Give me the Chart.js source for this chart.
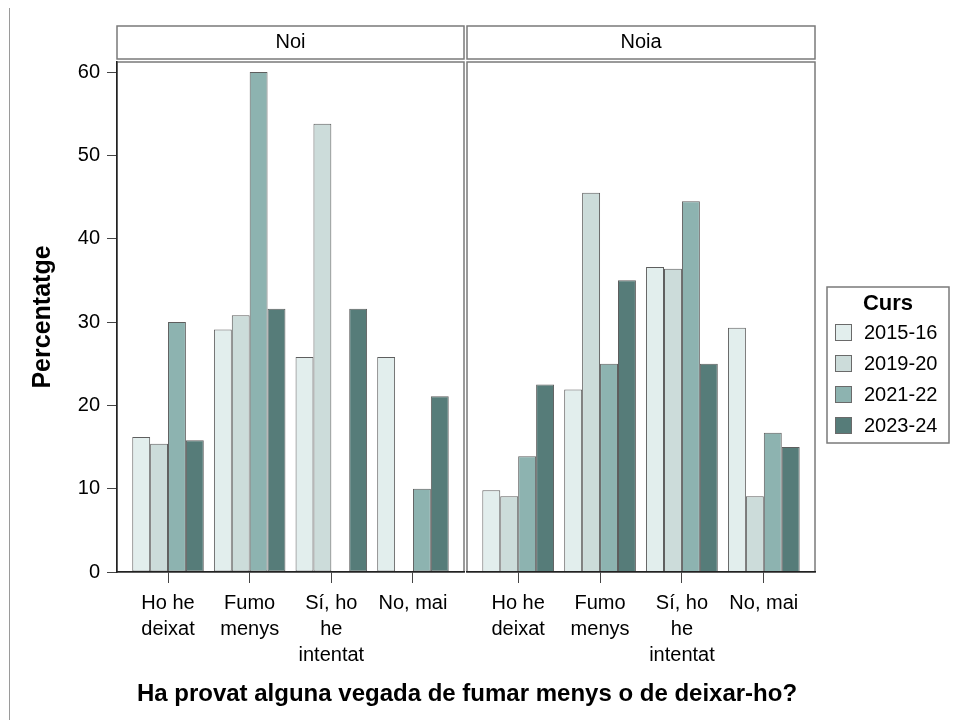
<!DOCTYPE html>
<html lang="ca">
<head>
<meta charset="utf-8">
<title>Ha provat alguna vegada de fumar menys o de deixar-ho?</title>
<script src="https://cdn.jsdelivr.net/npm/chart.js@4.4.1/dist/chart.umd.min.js"></script>
<style>
  html, body { margin: 0; padding: 0; background: #fff; }
  #wrap { position: relative; width: 956px; height: 720px; overflow: hidden; }
  #wrap canvas { position: absolute; left: 0; top: 0; }
  #edge { position: absolute; left: 9px; top: 8px; width: 1px; height: 712px; background: #9a9a9a; }
</style>
</head>
<body>
<div id="wrap">
  <div id="edge"></div>
  <canvas id="panel-noi" width="956" height="720"></canvas>
  <canvas id="panel-noia" width="956" height="720"></canvas>
</div>
<script>
// --- Data: percentatges llegits del gràfic ---
var panels = ['Noi', 'Noia'];
var cursos = ['2015-16', '2019-20', '2021-22', '2023-24'];
var respostes = [['Ho he', 'deixat'], ['Fumo', 'menys'], ['Sí, ho', 'he', 'intentat'], ['No, mai']];
var yTicks = [0, 10, 20, 30, 40, 50, 60];
var xTitle = 'Ha provat alguna vegada de fumar menys o de deixar-ho?';
var yTitle = 'Percentatge';
var legendTitle = 'Curs';

// one array per curs, in the order of respostes
var noi2015 = [16.2, 29.1, 25.8, 25.8];
var noi2019 = [15.4, 30.8, 53.8, 0];
var noi2021 = [30.0, 60.0, 0, 10.0];
var noi2023 = [15.8, 31.6, 31.6, 21.1];

var noia2015 = [9.8, 21.9, 36.6, 29.3];
var noia2019 = [9.1, 45.5, 36.4, 9.1];
var noia2021 = [13.9, 25.0, 44.5, 16.7];
var noia2023 = [22.5, 35.0, 25.0, 15.0];

(function () {
  'use strict';

  if (typeof Chart === 'undefined') return;

  var FONT = '"Liberation Sans", Arial, Helvetica, sans-serif';
  var cursColors = ['#e2eeed', '#ccdcda', '#8db3b0', '#567c79'];
  var frameColor = '#7a7a7a';
  var axisColor = '#222';

  function buildDatasets(rows) {
    return rows.map(function (vals, k) {
      return {
        label: cursos[k],
        data: vals.map(function (v, i) { return { x: i, y: v }; }),
        backgroundColor: cursColors[k],
        borderColor: '#5e5e5e',
        borderWidth: 1,
        borderSkipped: false,
        barPercentage: 1,
        categoryPercentage: 0.876
      };
    });
  }

  // Plugin: panel frame + strip header ("Noi" / "Noia")
  function panelDecor(name) {
    return {
      id: 'panelDecor',
      beforeDraw: function (chart) {
        var a = chart.chartArea;
        var ctx = chart.ctx;
        ctx.save();
        ctx.strokeStyle = frameColor;
        ctx.lineWidth = 1.5;
        ctx.strokeRect(a.left, a.top, a.right - a.left, a.bottom - a.top);
        // strip
        ctx.strokeRect(a.left, a.top - 36, a.right - a.left, 33);
        ctx.fillStyle = '#000';
        ctx.font = '20px ' + FONT;
        ctx.textAlign = 'center';
        ctx.textBaseline = 'middle';
        ctx.fillText(name, (a.left + a.right) / 2, a.top - 20);
        ctx.restore();
      }
    };
  }

  // Plugin: shared x title across both panels
  var xTitlePlugin = {
    id: 'xTitle',
    afterDraw: function (chart) {
      var ctx = chart.ctx;
      ctx.save();
      ctx.fillStyle = '#000';
      ctx.font = 'bold 24px ' + FONT;
      ctx.textAlign = 'center';
      ctx.textBaseline = 'middle';
      ctx.fillText(xTitle, 467, 694);
      ctx.restore();
    }
  };

  // Plugin: boxed legend at the right of the second panel
  var legendPlugin = {
    id: 'cursLegend',
    afterDraw: function (chart) {
      var ctx = chart.ctx;
      var x0 = chart.chartArea.right + 12;
      var y0 = 287, w = 122, h = 156;
      ctx.save();
      ctx.fillStyle = '#fff';
      ctx.fillRect(x0, y0, w, h);
      ctx.strokeStyle = frameColor;
      ctx.lineWidth = 1.5;
      ctx.strokeRect(x0, y0, w, h);
      ctx.fillStyle = '#000';
      ctx.font = 'bold 22px ' + FONT;
      ctx.textAlign = 'center';
      ctx.textBaseline = 'middle';
      ctx.fillText(legendTitle, x0 + w / 2, y0 + 17);
      ctx.font = '20px ' + FONT;
      ctx.textAlign = 'left';
      chart.data.datasets.forEach(function (ds, k) {
        var cy = y0 + 45 + k * 31;
        ctx.fillStyle = ds.backgroundColor;
        ctx.fillRect(x0 + 8, cy - 8, 16, 16);
        ctx.strokeStyle = '#6a6a6a';
        ctx.lineWidth = 1;
        ctx.strokeRect(x0 + 8.5, cy - 7.5, 16, 16);
        ctx.fillStyle = '#000';
        ctx.fillText(ds.label, x0 + 37, cy + 1);
      });
      ctx.restore();
    }
  };

  function xScale() {
    return {
      type: 'linear',
      offset: false,
      min: -0.625,
      max: 3.625,
      afterBuildTicks: function (axis) {
        axis.ticks = respostes.map(function (r, i) { return { value: i }; });
      },
      afterFit: function (axis) { axis.height = 148; },
      grid: { display: true, offset: false, drawOnChartArea: false, drawTicks: true, tickLength: 11, color: '#444' },
      border: { display: true, color: axisColor, width: 1.5, z: 1 },
      ticks: {
        autoSkip: false,
        maxRotation: 0,
        padding: 7,
        color: '#000',
        font: { family: FONT, size: 20, lineHeight: 1.3 },
        callback: function (value) { return respostes[value]; }
      }
    };
  }

  function yScale(show) {
    return {
      display: show,
      min: 0,
      max: 61.2,
      afterBuildTicks: function (axis) {
        axis.ticks = yTicks.map(function (v) { return { value: v }; });
      },
      afterFit: function (axis) { if (show) axis.width = 117; },
      grid: { display: true, drawOnChartArea: false, drawTicks: true, tickLength: 10, color: '#444' },
      border: { display: true, color: axisColor, width: 1.5, z: 1 },
      ticks: { padding: 7, color: '#000', font: { family: FONT, size: 20 } },
      title: {
        display: show,
        text: yTitle,
        color: '#000',
        font: { family: FONT, size: 25, weight: 'bold' },
        padding: { top: 28, bottom: 0 }
      }
    };
  }

  function makePanel(canvasId, name, rows, padding, extraPlugins) {
    var ctx = document.getElementById(canvasId).getContext('2d');
    return new Chart(ctx, {
      type: 'bar',
      data: { datasets: buildDatasets(rows) },
      options: {
        responsive: false,
        animation: false,
        layout: { padding: padding },
        plugins: { legend: { display: false }, tooltip: { enabled: false } },
        scales: { x: xScale(), y: yScale(padding.left === 0) }
      },
      plugins: [panelDecor(name)].concat(extraPlugins)
    });
  }

  makePanel('panel-noi', panels[0],
    [noi2015, noi2019, noi2021, noi2023],
    { left: 0, top: 62, right: 492, bottom: 0 },
    [xTitlePlugin]);

  makePanel('panel-noia', panels[1],
    [noia2015, noia2019, noia2021, noia2023],
    { left: 467, top: 62, right: 141, bottom: 0 },
    [legendPlugin]);
})();
</script>
</body>
</html>
